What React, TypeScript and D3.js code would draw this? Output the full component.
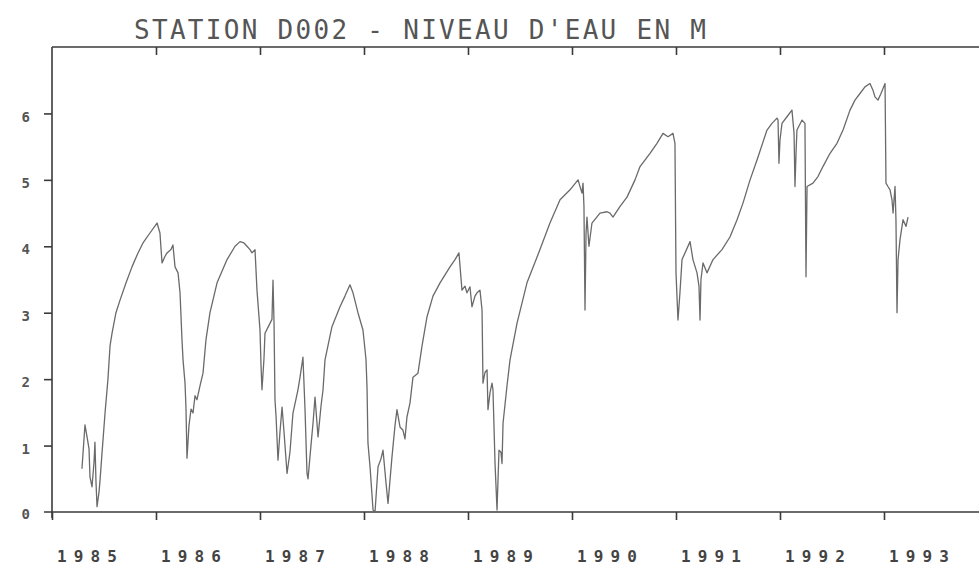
import React, { useEffect, useRef } from 'react';
import * as d3 from 'd3';

// decimal years
const dates = [
  1985.288, 1985.317, 1985.337, 1985.356, 1985.365, 1985.385, 1985.404, 1985.413, 1985.423, 1985.433,
  1985.452, 1985.462, 1985.481, 1985.510, 1985.538, 1985.558, 1985.577, 1985.615, 1985.654, 1985.712,
  1985.769, 1985.827, 1985.875, 1985.942, 1986.010, 1986.038, 1986.058, 1986.087, 1986.106, 1986.144,
  1986.163, 1986.183, 1986.212, 1986.231, 1986.250, 1986.260, 1986.279, 1986.288, 1986.298, 1986.317,
  1986.337, 1986.356, 1986.375, 1986.394, 1986.423, 1986.452, 1986.481, 1986.519, 1986.587, 1986.683,
  1986.760, 1986.808, 1986.846, 1986.875, 1986.904, 1986.923, 1986.952, 1986.971, 1987.000, 1987.010,
  1987.019, 1987.038, 1987.048, 1987.096, 1987.115, 1987.125, 1987.135, 1987.144, 1987.154, 1987.173,
  1987.192, 1987.212, 1987.231, 1987.260, 1987.288, 1987.317, 1987.346, 1987.365, 1987.385, 1987.413,
  1987.433, 1987.452, 1987.462, 1987.490, 1987.510, 1987.529, 1987.558, 1987.587, 1987.606, 1987.625,
  1987.692, 1987.769, 1987.817, 1987.865, 1987.894, 1987.942, 1987.990, 1988.019, 1988.029, 1988.038,
  1988.058, 1988.087, 1988.106, 1988.135, 1988.163, 1988.183, 1988.212, 1988.231, 1988.269, 1988.298,
  1988.317, 1988.346, 1988.375, 1988.394, 1988.413, 1988.442, 1988.471, 1988.519, 1988.558, 1988.606,
  1988.663, 1988.731, 1988.827, 1988.875, 1988.913, 1988.942, 1988.971, 1988.990, 1989.019, 1989.038,
  1989.067, 1989.087, 1989.115, 1989.135, 1989.144, 1989.163, 1989.183, 1989.192, 1989.212, 1989.231,
  1989.240, 1989.260, 1989.279, 1989.298, 1989.317, 1989.327, 1989.337, 1989.375, 1989.404, 1989.471,
  1989.567, 1989.692, 1989.788, 1989.885, 1989.981, 1990.058, 1990.096, 1990.106, 1990.115, 1990.125,
  1990.135, 1990.144, 1990.163, 1990.192, 1990.269, 1990.337, 1990.365, 1990.394, 1990.462, 1990.529,
  1990.606, 1990.654, 1990.750, 1990.817, 1990.875, 1990.923, 1990.971, 1990.990, 1991.000, 1991.019,
  1991.038, 1991.058, 1991.135, 1991.163, 1991.202, 1991.221, 1991.231, 1991.240, 1991.260, 1991.298,
  1991.356, 1991.442, 1991.519, 1991.587, 1991.644, 1991.712, 1991.779, 1991.875, 1991.923, 1991.971,
  1991.981, 1991.990, 1992.000, 1992.019, 1992.067, 1992.115, 1992.135, 1992.144, 1992.154, 1992.163,
  1992.212, 1992.240, 1992.250, 1992.260, 1992.317, 1992.365, 1992.413, 1992.481, 1992.548, 1992.606,
  1992.673, 1992.721, 1992.769, 1992.817, 1992.865, 1992.894, 1992.913, 1992.942, 1992.971, 1993.010,
  1993.019, 1993.038, 1993.058, 1993.077, 1993.087, 1993.106, 1993.115, 1993.125, 1993.135, 1993.154,
  1993.183, 1993.212, 1993.231,
];

// water level in metres
const levels = [
  0.65, 1.31, 1.13, 0.95, 0.53, 0.38, 0.75, 1.05, 0.45, 0.08,
  0.30, 0.48, 0.89, 1.49, 2.0, 2.5, 2.69, 3.0, 3.19, 3.45,
  3.69, 3.9, 4.05, 4.2, 4.35, 4.2, 3.75, 3.85, 3.9, 3.95,
  4.02, 3.69, 3.6, 3.3, 2.59, 2.29, 1.94, 1.58, 0.81, 1.3,
  1.55, 1.49, 1.75, 1.69, 1.9, 2.09, 2.6, 3.0, 3.45, 3.8,
  4.0, 4.07, 4.05, 4.0, 3.95, 3.9, 3.95, 3.34, 2.74, 2.2,
  1.84, 2.3, 2.69, 2.84, 2.9, 3.49, 2.84, 1.69, 1.45, 0.78,
  1.2, 1.58, 1.2, 0.58, 0.9, 1.49, 1.7, 1.84, 2.03, 2.33,
  1.54, 0.58, 0.5, 1.0, 1.34, 1.73, 1.13, 1.6, 1.84, 2.29,
  2.79, 3.09, 3.25, 3.42, 3.3, 3.0, 2.74, 2.3, 1.88, 1.04,
  0.68, 0.03, 0.0, 0.68, 0.8, 0.93, 0.43, 0.13, 0.83, 1.3,
  1.54, 1.28, 1.23, 1.1, 1.43, 1.64, 2.03, 2.09, 2.5, 2.94,
  3.25, 3.45, 3.69, 3.8, 3.9, 3.34, 3.4, 3.3, 3.39, 3.09,
  3.25, 3.3, 3.34, 3.04, 1.94, 2.1, 2.14, 1.54, 1.8, 1.94,
  1.84, 0.73, 0.03, 0.93, 0.9, 0.73, 1.34, 1.9, 2.29, 2.84,
  3.45, 3.95, 4.35, 4.7, 4.85, 5.0, 4.8, 4.95, 4.6, 3.04,
  4.2, 4.44, 4.0, 4.35, 4.5, 4.52, 4.5, 4.44, 4.6, 4.74,
  5.0, 5.2, 5.4, 5.55, 5.7, 5.65, 5.7, 5.55, 3.6, 2.89,
  3.3, 3.8, 4.07, 3.8, 3.6, 3.4, 2.89, 3.5, 3.75, 3.6,
  3.8, 3.95, 4.14, 4.4, 4.65, 5.0, 5.3, 5.75, 5.85, 5.93,
  5.9, 5.25, 5.6, 5.85, 5.95, 6.05, 5.7, 4.9, 5.4, 5.75,
  5.9, 5.85, 3.54, 4.9, 4.95, 5.05, 5.2, 5.4, 5.55, 5.75,
  6.05, 6.2, 6.3, 6.4, 6.45, 6.35, 6.25, 6.2, 6.3, 6.45,
  4.95, 4.9, 4.85, 4.7, 4.5, 4.9, 4.4, 3.0, 3.8, 4.1,
  4.4, 4.3, 4.44,
];

const yearTicks = [1985, 1986, 1987, 1988, 1989, 1990, 1991, 1992, 1993];
const levelTicks = [0, 1, 2, 3, 4, 5, 6];

const App = () => {
  const svgRef = useRef<SVGSVGElement>(null);

  useEffect(() => {
    const svg = d3.select(svgRef.current);
    svg.selectAll('*').remove();

    const width = 979;
    const height = 569;
    const left = 52;
    const top = 47;
    const bottom = 512;
    const ink = '#3a3a3a';
    const mono = '"DejaVu Sans Mono", "Liberation Mono", monospace';

    svg.attr('width', width).attr('height', height);

    const x = d3.scaleLinear().domain([1985, 1993]).range([left, 884]);
    const y = d3.scaleLinear().domain([0, 7]).range([bottom, top]);

    svg.append('rect').attr('width', width).attr('height', height).attr('fill', '#fff');

    // title
    svg.append('text')
      .attr('x', 134)
      .attr('y', 39)
      .attr('textLength', 572)
      .attr('lengthAdjust', 'spacing')
      .style('font-family', mono)
      .style('font-size', '26px')
      .style('fill', '#555')
      .text("STATION D002 - NIVEAU D'EAU EN M");

    // frame lines
    const frame = svg.append('g').attr('stroke', ink).attr('stroke-width', 1.6).attr('fill', 'none');
    frame.append('line').attr('x1', left).attr('x2', width).attr('y1', top).attr('y2', top);
    frame.append('line').attr('x1', left - 8).attr('x2', width).attr('y1', bottom).attr('y2', bottom);
    frame.append('line').attr('x1', left).attr('x2', left).attr('y1', top).attr('y2', bottom + 6);

    // bottom axis ticks + labels
    const bottomAxis = d3.axisBottom(x).tickValues(yearTicks).tickSize(8).tickFormat(() => '');
    const gb = svg.append('g').attr('transform', `translate(0,${bottom})`).call(bottomAxis);
    gb.select('.domain').remove();
    gb.selectAll('line').attr('stroke', ink).attr('stroke-width', 1.6);

    svg.append('g').selectAll('text')
      .data(yearTicks)
      .enter()
      .append('text')
      .attr('x', d => x(d) + 5)
      .attr('y', 562)
      .attr('textLength', 60)
      .attr('lengthAdjust', 'spacing')
      .style('font-family', mono)
      .style('font-size', '16px')
      .style('font-weight', 'bold')
      .style('fill', '#444')
      .text(d => String(d));

    // top axis ticks, pointing inward
    const topAxis = d3.axisBottom(x).tickValues(yearTicks.slice(1)).tickSize(8).tickFormat(() => '');
    const gt = svg.append('g').attr('transform', `translate(0,${top})`).call(topAxis);
    gt.select('.domain').remove();
    gt.selectAll('line').attr('stroke', ink).attr('stroke-width', 1.6);

    // left axis
    const leftAxis = d3.axisLeft(y).tickValues(levelTicks.slice(1)).tickSize(8).tickPadding(14).tickFormat(d => String(d));
    const gl = svg.append('g').attr('transform', `translate(${left},0)`).call(leftAxis);
    gl.select('.domain').remove();
    gl.selectAll('line').attr('stroke', ink).attr('stroke-width', 1.6);
    gl.selectAll('text')
      .attr('dy', '0.55em')
      .style('font-family', mono)
      .style('font-size', '14px')
      .style('font-weight', 'bold')
      .style('fill', '#555');

    svg.append('text')
      .attr('x', 30)
      .attr('y', y(0) + 7)
      .attr('text-anchor', 'end')
      .style('font-family', mono)
      .style('font-size', '14px')
      .style('font-weight', 'bold')
      .style('fill', '#555')
      .text('0');

    // series
    const series = dates.map((d, i) => [d, levels[i]] as [number, number]);
    const line = d3.line<[number, number]>()
      .x(d => x(d[0]))
      .y(d => y(d[1]));

    svg.append('path')
      .datum(series)
      .attr('d', line)
      .attr('fill', 'none')
      .attr('stroke', '#6a6a6a')
      .attr('stroke-width', 1.3)
      .attr('stroke-linejoin', 'round');
  }, []);

  return (
    <div style={{ position: 'absolute', left: 0, top: 0 }}>
      <svg ref={svgRef}></svg>
    </div>
  );
};

export default App;
